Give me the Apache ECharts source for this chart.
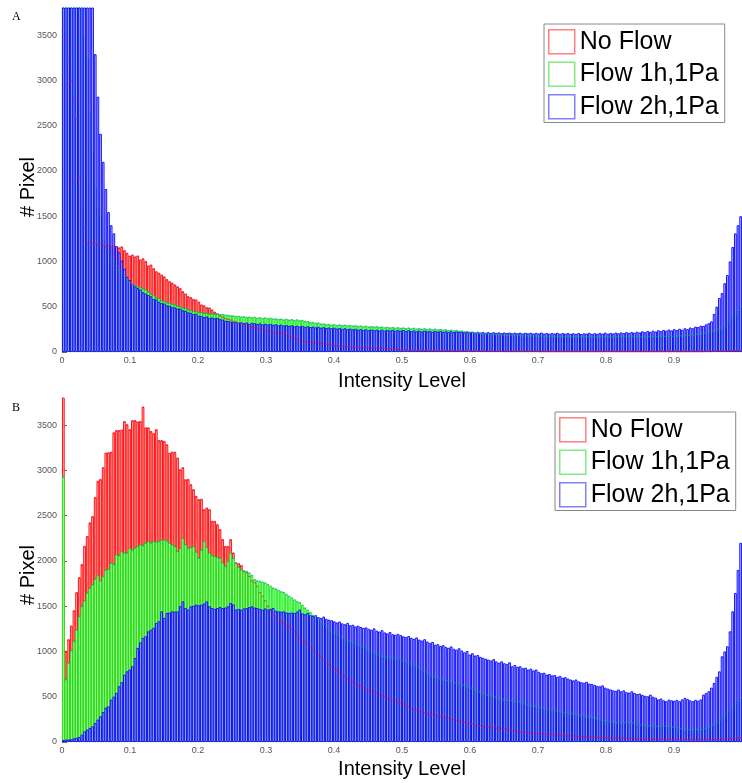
<!DOCTYPE html>
<html>
<head>
<meta charset="utf-8">
<script src="https://cdn.jsdelivr.net/npm/echarts@6/dist/echarts.min.js"></script>
<style>
  html, body { margin: 0; padding: 0; background: #fff; }
  #chart { width: 742px; height: 783px; }
</style>
</head>
<body>
<div id="chart"></div>
<script>
// 256 intensity bins between 0 and 1
const binCount = 256;
const bins = [];
for (let i = 0; i < binCount; i++) bins.push(((i + 0.5) / binCount).toFixed(4));

const xTickLabels = ['0', '0.1', '0.2', '0.3', '0.4', '0.5', '0.6', '0.7', '0.8', '0.9', ''];
const yTickLabels = ['0', '500', '1000', '1500', '2000', '2500', '3000', '3500'];
const seriesNames = ['No Flow', 'Flow 1h,1Pa', 'Flow 2h,1Pa'];

// ---- panel A ----
const noFlowA = [
  3600, 3450, 3250, 3000, 2800, 2570, 1930, 1590, 1370, 1200, 1210, 1195, 1200, 1185, 1200, 1180,
  1170, 1180, 1160, 1175, 1163, 1150, 1160, 1120, 1090, 1060, 1070, 1050, 1060, 1015, 1030, 1000,
  950, 960, 920, 887, 870, 850, 830, 800, 776, 760, 740, 721, 700, 666, 640, 611,
  600, 580, 574, 550, 519, 510, 490, 486, 464, 440, 420, 400, 385, 370, 360, 353,
  340, 330, 320, 310, 300, 290, 280, 275, 270, 262, 255, 250, 243, 238, 230, 222,
  215, 208, 204, 199, 190, 180, 170, 155, 140, 125, 120, 115, 110, 106, 103, 100,
  98, 95, 90, 86, 82, 78, 74, 70, 66, 62, 60, 58, 55, 53, 52, 50,
  49, 48, 47, 46, 45, 44, 43, 42, 40, 38, 36, 34, 32, 30, 28, 26,
  25, 24, 23, 22, 22, 21, 20, 20, 19, 18, 18, 17, 17, 16, 16, 15,
  15, 15, 14, 14, 14, 13, 13, 13, 12, 12, 12, 12, 11, 11, 11, 11,
  10, 10, 10, 10, 10, 10, 9, 9, 9, 9, 9, 9, 9, 9, 9, 9,
  9, 9, 9, 8, 8, 8, 8, 8, 8, 8, 8, 8, 8, 8, 8, 8,
  8, 8, 8, 8, 8, 8, 8, 8, 8, 8, 8, 8, 8, 8, 8, 8,
  8, 8, 8, 8, 8, 8, 8, 8, 8, 8, 8, 8, 8, 8, 8, 8,
  8, 8, 8, 8, 8, 8, 8, 8, 8, 8, 8, 8, 8, 8, 8, 8,
  8, 8, 9, 9, 9, 10, 10, 11, 11, 12, 13, 14, 15, 16, 18, 20
];
const flow1hA = [
  5200, 5000, 4800, 4600, 4400, 4200, 4000, 3800, 3500, 3257, 2650, 2230, 1820, 1600, 1512, 1258,
  1190, 1100, 1050, 1000, 950, 905, 870, 840, 800, 770, 745, 730, 721, 715, 700, 690,
  665, 640, 625, 598, 592, 568, 562, 545, 542, 528, 522, 508, 502, 488, 482, 468,
  462, 450, 447, 438, 437, 428, 430, 422, 425, 418, 421, 413, 414, 408, 406, 400,
  399, 392, 394, 387, 390, 382, 385, 378, 383, 374, 379, 370, 376, 368, 372, 364,
  366, 360, 363, 355, 361, 352, 358, 349, 355, 346, 348, 338, 336, 327, 326, 318,
  320, 309, 310, 302, 304, 297, 302, 294, 299, 291, 297, 289, 293, 287, 290, 283,
  287, 279, 285, 276, 281, 275, 279, 271, 276, 268, 273, 266, 271, 263, 268, 262,
  266, 258, 265, 256, 262, 254, 259, 251, 257, 249, 255, 246, 252, 244, 249, 242,
  245, 238, 242, 234, 238, 229, 232, 225, 226, 218, 218, 210, 210, 204, 203, 198,
  199, 193, 195, 190, 192, 186, 189, 184, 187, 181, 185, 179, 183, 178, 181, 176,
  179, 174, 177, 172, 176, 171, 175, 170, 174, 169, 173, 168, 173, 168, 172, 167,
  172, 166, 171, 167, 172, 165, 170, 166, 171, 164, 170, 166, 171, 165, 170, 166,
  171, 165, 170, 167, 172, 166, 171, 165, 170, 166, 171, 167, 172, 166, 171, 168,
  172, 168, 173, 170, 174, 171, 176, 173, 178, 176, 182, 180, 187, 186, 193, 194,
  200, 205, 212, 220, 228, 235, 243, 250, 265, 290, 320, 353, 380, 420, 460, 500
];
const flow2hA = [
  7800, 7400, 7000, 6600, 6200, 5800, 5400, 5000, 4700, 4400, 4100, 3900, 3290, 2820, 2410, 2100,
  1800, 1545, 1400, 1310, 1170, 1100, 1010, 920, 830, 795, 750, 725, 705, 690, 660, 645,
  630, 615, 585, 580, 555, 540, 535, 515, 512, 495, 492, 480, 478, 460, 455, 438,
  432, 418, 420, 400, 398, 385, 392, 376, 380, 372, 375, 362, 358, 345, 342, 335,
  330, 334, 322, 328, 318, 325, 312, 322, 318, 310, 316, 305, 312, 304, 310, 300,
  306, 296, 302, 292, 298, 288, 295, 285, 290, 282, 288, 278, 284, 275, 280, 272,
  278, 268, 274, 265, 270, 262, 268, 258, 264, 256, 262, 252, 258, 250, 255, 246,
  252, 244, 250, 241, 248, 240, 246, 238, 247, 236, 244, 238, 245, 235, 243, 236,
  242, 232, 240, 230, 238, 229, 236, 226, 235, 228, 233, 224, 232, 225, 230, 222,
  229, 220, 228, 219, 226, 221, 225, 216, 224, 218, 223, 214, 222, 215, 220, 212,
  219, 210, 218, 211, 216, 208, 215, 209, 214, 206, 214, 207, 213, 205, 212, 206,
  212, 204, 211, 205, 214, 203, 210, 202, 209, 204, 212, 201, 208, 203, 210, 200,
  207, 200, 209, 198, 206, 203, 212, 199, 207, 201, 210, 203, 214, 202, 209, 205,
  214, 206, 216, 209, 219, 211, 220, 213, 224, 216, 228, 219, 232, 222, 236, 226,
  240, 230, 243, 235, 248, 238, 252, 241, 256, 245, 262, 252, 270, 262, 280, 275,
  290, 288, 305, 318, 338, 420, 500, 596, 650, 760, 850, 1000, 1160, 1310, 1400, 1500
];

// ---- panel B ----
const noFlowB = [
  3850, 1000, 1130, 1280, 1450, 1650, 1815, 1960, 2160, 2270, 2420, 2490, 2700, 2880, 2900, 3030,
  3190, 3195, 3200, 3415, 3440, 3440, 3445, 3540, 3505, 3450, 3550, 3550, 3535, 3540, 3700, 3470,
  3470, 3430, 3405, 3450, 3330, 3330, 3320, 3283, 3190, 3200, 3200, 3136, 3007, 3030, 2897, 2900,
  2842, 2787, 2713, 2676, 2680, 2566, 2584, 2566, 2437, 2437, 2400, 2345, 2235, 2160, 2160, 2235,
  2088, 1977, 1970, 1950, 1885, 1867, 1830, 1780, 1760, 1720, 1650, 1610, 1560, 1500, 1450, 1400,
  1370, 1340, 1333, 1310, 1290, 1277, 1250, 1220, 1180, 1150, 1120, 1100, 1080, 1057, 1020, 990,
  960, 935, 910, 880, 860, 836, 810, 790, 770, 745, 725, 700, 680, 660, 640, 620,
  615, 600, 590, 575, 565, 560, 545, 530, 515, 500, 487, 475, 465, 455, 440, 432,
  420, 405, 390, 375, 358, 350, 340, 332, 325, 320, 312, 305, 298, 290, 284, 278,
  270, 262, 255, 247, 240, 233, 225, 218, 210, 205, 198, 190, 183, 178, 173, 168,
  165, 162, 158, 155, 155, 150, 145, 140, 135, 128, 122, 115, 112, 108, 104, 100,
  100, 97, 95, 92, 90, 88, 86, 84, 82, 80, 78, 76, 74, 72, 70, 68,
  66, 64, 62, 60, 60, 58, 56, 55, 54, 52, 50, 50, 48, 47, 46, 45,
  45, 44, 43, 42, 41, 40, 40, 38, 37, 36, 36, 35, 34, 33, 33, 32,
  32, 31, 30, 30, 29, 29, 28, 28, 27, 27, 26, 26, 26, 25, 25, 25,
  25, 25, 26, 26, 27, 28, 29, 30, 31, 33, 35, 36, 38, 40, 42, 45
];
const flow1hB = [
  2930, 690, 875, 1010, 1112, 1240, 1388, 1498, 1560, 1648, 1700, 1738, 1800, 1840, 1780, 1830,
  1900, 1910, 1977, 1960, 2070, 2060, 2105, 2088, 2090, 2143, 2120, 2143, 2160, 2180, 2170, 2198,
  2216, 2200, 2216, 2210, 2216, 2230, 2235, 2220, 2198, 2180, 2160, 2105, 2140, 2253, 2180, 2143,
  2150, 2160, 2100, 2032, 2120, 2216, 2150, 2088, 2060, 2050, 2040, 2032, 1980, 1940, 2000, 2088,
  2030, 1977, 1930, 1903, 1890, 1885, 1867, 1840, 1793, 1780, 1774, 1765, 1757, 1740, 1720, 1700,
  1690, 1675, 1660, 1650, 1630, 1610, 1590, 1570, 1550, 1540, 1510, 1480, 1455, 1430, 1400, 1380,
  1350, 1320, 1300, 1270, 1240, 1220, 1207, 1190, 1170, 1150, 1130, 1120, 1112, 1100, 1090, 1075,
  1060, 1050, 1040, 1020, 1000, 985, 970, 955, 946, 940, 935, 930, 925, 920, 915, 910,
  900, 890, 875, 860, 850, 836, 820, 800, 780, 760, 740, 725, 715, 705, 695, 685,
  680, 675, 670, 660, 650, 640, 630, 620, 615, 600, 590, 575, 560, 545, 535, 525,
  515, 505, 500, 490, 480, 470, 465, 460, 458, 455, 450, 447, 440, 430, 420, 410,
  400, 394, 388, 380, 375, 370, 362, 358, 352, 346, 340, 334, 328, 322, 320, 315,
  310, 302, 295, 290, 284, 280, 275, 270, 262, 255, 247, 240, 235, 228, 222, 215,
  210, 212, 208, 210, 215, 212, 210, 205, 198, 190, 185, 180, 175, 173, 175, 173,
  170, 172, 175, 173, 170, 165, 160, 155, 150, 145, 137, 135, 138, 140, 137, 137,
  140, 145, 152, 160, 175, 195, 210, 240, 270, 300, 330, 358, 390, 420, 455, 487
];
const flow2hB = [
  22, 26, 28, 30, 40, 48, 55, 80, 118, 137, 155, 173, 210, 247, 284, 330,
  380, 394, 468, 500, 542, 615, 660, 744, 780, 800, 836, 928, 1039, 1100, 1150, 1167,
  1222, 1240, 1260, 1315, 1333, 1443, 1370, 1425, 1430, 1443, 1440, 1443, 1500, 1553, 1480, 1462,
  1498, 1505, 1517, 1510, 1517, 1530, 1553, 1500, 1480, 1470, 1480, 1490, 1480, 1485, 1498, 1535,
  1520, 1462, 1470, 1462, 1475, 1480, 1490, 1498, 1485, 1480, 1470, 1462, 1475, 1462, 1470, 1480,
  1450, 1443, 1440, 1443, 1430, 1425, 1430, 1425, 1440, 1462, 1420, 1410, 1425, 1400, 1390, 1400,
  1380, 1370, 1385, 1360, 1350, 1345, 1333, 1320, 1330, 1310, 1300, 1315, 1290, 1295, 1277, 1285,
  1270, 1260, 1265, 1250, 1240, 1255, 1230, 1220, 1235, 1210, 1200, 1215, 1190, 1185, 1195, 1180,
  1167, 1160, 1170, 1150, 1140, 1155, 1130, 1120, 1135, 1110, 1094, 1105, 1075, 1080, 1060, 1070,
  1050, 1040, 1055, 1030, 1020, 1035, 1010, 990, 1005, 965, 980, 955, 960, 940, 930, 920,
  910, 900, 915, 890, 875, 890, 870, 860, 880, 836, 850, 830, 836, 815, 820, 800,
  810, 790, 800, 775, 760, 765, 745, 750, 735, 740, 720, 730, 710, 715, 700, 690,
  680, 690, 670, 660, 655, 665, 645, 640, 630, 620, 615, 625, 600, 590, 580, 570,
  565, 580, 560, 570, 550, 545, 560, 542, 530, 535, 520, 510, 505, 523, 500, 490,
  470, 480, 460, 450, 468, 460, 455, 465, 450, 470, 487, 475, 460, 450, 465, 455,
  470, 523, 540, 560, 600, 652, 720, 780, 946, 1000, 1057, 1222, 1443, 1646, 1900, 2200
];

const panels = [
  { label: 'A', data: [noFlowA, flow1hA, flow2hA], top: 8, legendLeft: 544, legendTop: 24 },
  { label: 'B', data: [noFlowB, flow1hB, flow2hB], top: 398, legendLeft: 555, legendTop: 412 }
];

const edgeColors = ['#ff0000', '#10ee10', '#0000ff'];
const fillColors = ['#ffb8b8', '#b8ffb8', '#c0c0ff'];
const dotColors = ['rgba(225,20,60,0.85)', 'rgba(20,170,110,0.85)'];
const legendEdges = ['#ff8080', '#80ee80', '#8080ff'];
const FONT = 'Liberation Sans, Arial, sans-serif';

const grids = [], xAxes = [], yAxes = [], series = [], legends = [], graphics = [];

panels.forEach((p, g) => {
  grids.push({ left: 62, top: p.top, width: 680, height: 344, containLabel: false, outerBoundsMode: 'none' });
  xAxes.push({ gridIndex: g, type: 'category', data: bins, show: false, boundaryGap: true });
  xAxes.push({
    gridIndex: g, type: 'value', position: 'bottom', min: 0, max: 1, interval: 0.1,
    axisLine: { show: false }, axisTick: { show: false }, splitLine: { show: false },
    axisLabel: {
      fontSize: 9, color: '#555', fontFamily: FONT, margin: 4,
      formatter: v => xTickLabels[Math.round(v * 10)] || ''
    }
  });
  yAxes.push({
    gridIndex: g, type: 'value', min: 0, max: 3800, interval: 500,
    axisLine: { show: false }, splitLine: { show: false },
    axisTick: { show: true, inside: true, length: 5, lineStyle: { color: '#666' } },
    axisLabel: {
      fontSize: 9, color: '#555', fontFamily: FONT, margin: 5, showMaxLabel: false,
      formatter: v => yTickLabels[Math.round(v / 500)] || ''
    }
  });
  p.data.forEach((vals, k) => {
    series.push({
      type: 'bar', name: seriesNames[k], xAxisIndex: g * 2, yAxisIndex: g,
      data: vals, barWidth: 680 / binCount, barGap: '-100%', clip: true,
      itemStyle: { color: fillColors[k], borderColor: edgeColors[k], borderWidth: 0.9 },
      silent: true
    });
  });
  // tops of the hidden red / green bars show through as dotted edges
  [0, 1].forEach(k => {
    series.push({
      type: 'scatter', xAxisIndex: g * 2, yAxisIndex: g, data: p.data[k],
      symbol: 'rect', symbolSize: [2.4, 1.2], clip: true, z: 5, silent: true,
      itemStyle: { color: dotColors[k] }
    });
  });
  legends.push({
    orient: 'vertical', left: p.legendLeft, top: p.legendTop,
    padding: [5, 6, 3, 4], itemWidth: 26, itemHeight: 24, itemGap: 7, itemSymbolKeepAspect: false,
    backgroundColor: '#fff', borderColor: '#888', borderWidth: 1, borderRadius: 0,
    textStyle: { fontSize: 25, color: '#000', fontFamily: FONT, lineHeight: 24 },
    selectedMode: false,
    data: seriesNames.map((n, k) => ({
      name: n, icon: 'rect',
      itemStyle: { color: '#fff', borderColor: legendEdges[k], borderWidth: 1.5 }
    }))
  });
  graphics.push({
    type: 'text', left: 12, top: p.top + (g === 0 ? 3 : 4),
    style: { text: p.label, font: '12px "Liberation Serif", serif', fill: '#000' }
  });
  graphics.push({
    type: 'text', x: 28, y: p.top + (g === 0 ? 179 : 177), rotation: Math.PI / 2,
    style: { text: '# Pixel', font: '20px ' + FONT, fill: '#000', align: 'center', verticalAlign: 'middle' }
  });
  graphics.push({
    type: 'text', x: 402, y: p.top + (g === 0 ? 373 : 371),
    style: { text: 'Intensity Level', font: '20px ' + FONT, fill: '#000', align: 'center', verticalAlign: 'middle' }
  });
});

const chart = echarts.init(document.getElementById('chart'), null, { renderer: 'canvas' });
chart.setOption({
  animation: false,
  backgroundColor: '#fff',
  grid: grids, xAxis: xAxes, yAxis: yAxes,
  legend: legends, series: series, graphic: graphics
});
</script>
</body>
</html>
